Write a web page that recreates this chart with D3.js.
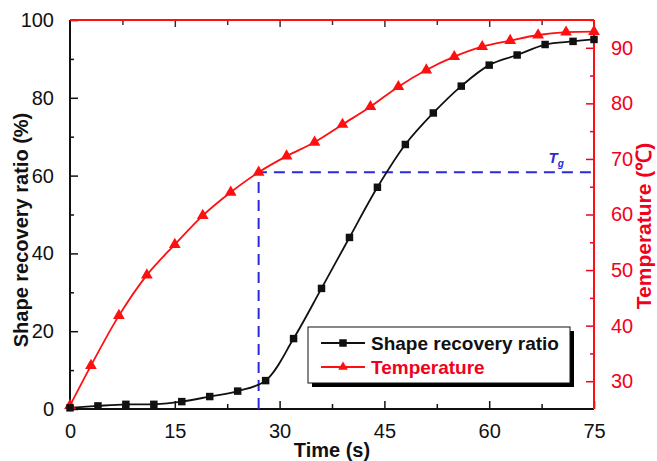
<!DOCTYPE html>
<html>
<head>
<meta charset="utf-8">
<script src="https://cdn.jsdelivr.net/npm/d3@7/dist/d3.min.js"></script>
<style>
  html, body { margin: 0; padding: 0; background: #fff; }
  svg { display: block; }
  text { font-family: "Liberation Sans", Arial, sans-serif; }
</style>
</head>
<body>
<svg id="chart" width="657" height="461"></svg>
<script>
// Shape recovery ratio (%) sampled every 4 s, last reading at 75 s
const recoveryTime = [0, 4, 8, 12, 16, 20, 24, 28, 32, 36, 40, 44, 48, 52, 56, 60, 64, 68, 72, 75];
const recoveryRatio = [0.3, 0.8, 1.2, 1.2, 1.9, 3.2, 4.6, 7.3, 18.1, 31.0, 44.1, 57.0, 68.0, 76.1, 83.0, 88.4, 91.0, 93.7, 94.5, 95.0];

// Temperature (℃) readings
const tempTime = [0, 3, 7, 11, 15, 19, 23, 27, 31, 35, 39, 43, 47, 51, 55, 59, 63, 67, 71, 75];
const tempValue = [25.6, 32.8, 41.8, 49.1, 54.6, 59.8, 64.0, 67.6, 70.5, 73.0, 76.2, 79.4, 83.0, 86.0, 88.4, 90.2, 91.3, 92.3, 92.8, 92.9];

// Glass transition marker
const tgTime = 27;
const tgTemp = 67.6;

// Axis ticks
const xTicks = [0, 15, 30, 45, 60, 75];
const xMinor = [7.5, 22.5, 37.5, 52.5, 67.5];
const yLeftTicks = [0, 20, 40, 60, 80, 100];
const yLeftMinor = [10, 30, 50, 70, 90];
const yRightTicks = [30, 40, 50, 60, 70, 80, 90];
const yRightMinor = [35, 45, 55, 65, 75, 85, 95];

const seriesNames = ["Shape recovery ratio", "Temperature"];

const RED = "#f2001e";
const RED_LINE = "#ff1010";
const BLUE = "#2b2bd6";

const plotL = 70, plotR = 594, plotT = 20, plotB = 409;

const svg = d3.select("#chart");

const x = d3.scaleLinear().domain([0, 75]).range([plotL, plotR]);
const yL = d3.scaleLinear().domain([0, 100]).range([plotB, plotT]);
const yR = d3.scaleLinear().domain([25, 95]).range([plotB, plotT]);

function styleAxis(g, color, fontSize) {
  g.select(".domain").remove();
  g.selectAll(".tick line").attr("stroke", color).attr("stroke-width", 1.5);
  g.selectAll(".tick text")
    .attr("fill", color)
    .style("font-size", fontSize + "px")
    .style("font-family", "'Liberation Sans', Arial, sans-serif");
}

// Bottom axis (ticks point inward)
svg.append("g").attr("transform", `translate(0,${plotB})`)
  .call(d3.axisBottom(x).tickValues(xTicks).tickSizeInner(-8).tickSizeOuter(0).tickPadding(15).tickFormat(d3.format("d")))
  .call(g => styleAxis(g, "#111", 20));
svg.append("g").attr("transform", `translate(0,${plotB})`)
  .call(d3.axisBottom(x).tickValues(xMinor).tickSizeInner(-5).tickSizeOuter(0).tickFormat(""))
  .call(g => styleAxis(g, "#111", 20));

// Top axis
svg.append("g").attr("transform", `translate(0,${plotT})`)
  .call(d3.axisTop(x).tickValues(xTicks.slice(1, -1)).tickSizeInner(-7).tickSizeOuter(0).tickFormat(""))
  .call(g => styleAxis(g, "#333", 20));
svg.append("g").attr("transform", `translate(0,${plotT})`)
  .call(d3.axisTop(x).tickValues(xMinor).tickSizeInner(-5).tickSizeOuter(0).tickFormat(""))
  .call(g => styleAxis(g, "#333", 20));

// Left axis
svg.append("g").attr("transform", `translate(${plotL},0)`)
  .call(d3.axisLeft(yL).tickValues(yLeftTicks).tickSizeInner(-8).tickSizeOuter(0).tickPadding(16))
  .call(g => styleAxis(g, "#111", 20));
svg.append("g").attr("transform", `translate(${plotL},0)`)
  .call(d3.axisLeft(yL).tickValues(yLeftMinor).tickSizeInner(-4).tickSizeOuter(0).tickFormat(""))
  .call(g => styleAxis(g, "#111", 20));

// Right axis (temperature)
svg.append("g").attr("transform", `translate(${plotR},0)`)
  .call(d3.axisRight(yR).tickValues(yRightTicks).tickSizeInner(-8).tickSizeOuter(0).tickPadding(17))
  .call(g => styleAxis(g, RED, 20));
svg.append("g").attr("transform", `translate(${plotR},0)`)
  .call(d3.axisRight(yR).tickValues(yRightMinor).tickSizeInner(-4).tickSizeOuter(0).tickFormat(""))
  .call(g => styleAxis(g, RED, 20));

// Frame lines
svg.append("line").attr("x1", plotL).attr("x2", plotR).attr("y1", plotB).attr("y2", plotB)
  .attr("stroke", "#111").attr("stroke-width", 2);
svg.append("line").attr("x1", plotL).attr("x2", plotL).attr("y1", plotT).attr("y2", plotB)
  .attr("stroke", "#111").attr("stroke-width", 2);
svg.append("line").attr("x1", plotL).attr("x2", plotR).attr("y1", plotT).attr("y2", plotT)
  .attr("stroke", RED_LINE).attr("stroke-width", 2);
svg.append("line").attr("x1", plotR).attr("x2", plotR).attr("y1", plotT).attr("y2", plotB)
  .attr("stroke", RED_LINE).attr("stroke-width", 2);

// Tg guide lines
svg.append("path")
  .attr("d", `M${x(tgTime)},${yL(0)}V${yR(tgTemp)}H${x(75)}`)
  .attr("fill", "none").attr("stroke", BLUE).attr("stroke-width", 2)
  .attr("stroke-dasharray", "11,7");

const tg = svg.append("text").attr("x", x(68.5)).attr("y", yR(tgTemp) - 9)
  .attr("fill", BLUE).style("font-size", "15px").style("font-weight", "bold").style("font-style", "italic");
tg.append("tspan").text("T");
tg.append("tspan").attr("dy", 4).style("font-size", "10px").text("g");

// Series lines
const recPts = recoveryTime.map((t, i) => [t, recoveryRatio[i]]);
const tmpPts = tempTime.map((t, i) => [t, tempValue[i]]);

svg.append("path").datum(tmpPts)
  .attr("d", d3.line().x(d => x(d[0])).y(d => yR(d[1])).curve(d3.curveCatmullRom))
  .attr("fill", "none").attr("stroke", RED_LINE).attr("stroke-width", 1.8);

svg.append("path").datum(recPts)
  .attr("d", d3.line().x(d => x(d[0])).y(d => yL(d[1])).curve(d3.curveCatmullRom))
  .attr("fill", "none").attr("stroke", "#111").attr("stroke-width", 1.8);

const square = d3.symbol().type(d3.symbolSquare).size(56);
const triangle = d3.symbol().type(d3.symbolTriangle).size(60);

svg.append("g").selectAll("path").data(tmpPts).join("path")
  .attr("d", triangle)
  .attr("transform", d => `translate(${x(d[0])},${yR(d[1])})`)
  .attr("fill", RED_LINE);

svg.append("g").selectAll("path").data(recPts).join("path")
  .attr("d", square)
  .attr("transform", d => `translate(${x(d[0])},${yL(d[1])})`)
  .attr("fill", "#111");

// Legend with drop shadow
const lg = svg.append("g").attr("transform", "translate(308,327)");
lg.append("rect").attr("x", 4).attr("y", 4).attr("width", 262).attr("height", 56).attr("fill", "#000");
lg.append("rect").attr("width", 262).attr("height", 56).attr("fill", "#fff").attr("stroke", "#111").attr("stroke-width", 1);

const legendRows = [
  { name: seriesNames[0], color: "#111", text: "#111", sym: square, dy: 16 },
  { name: seriesNames[1], color: RED_LINE, text: RED, sym: d3.symbol().type(d3.symbolTriangle).size(40), dy: 40 }
];
legendRows.forEach(r => {
  lg.append("line").attr("x1", 13).attr("x2", 57).attr("y1", r.dy).attr("y2", r.dy)
    .attr("stroke", r.color).attr("stroke-width", 1.8);
  lg.append("path").attr("d", r.sym).attr("transform", `translate(35,${r.dy})`).attr("fill", r.color);
  lg.append("text").attr("x", 63).attr("y", r.dy + 7).attr("fill", r.text)
    .style("font-size", "19px").style("font-weight", "bold").text(r.name);
});

// Axis titles
svg.append("text").attr("x", (plotL + plotR) / 2).attr("y", 457).attr("text-anchor", "middle")
  .style("font-size", "20px").style("font-weight", "bold").attr("fill", "#111").text("Time (s)");

svg.append("text").attr("transform", "translate(28,230) rotate(-90)").attr("text-anchor", "middle")
  .style("font-size", "20px").style("font-weight", "bold").attr("fill", "#111").text("Shape recovery ratio (%)");

svg.append("text").attr("transform", "translate(651,226) rotate(-90)").attr("text-anchor", "middle")
  .style("font-size", "21px").style("font-weight", "bold").attr("fill", RED).text("Temperature (℃)");
</script>
</body>
</html>
